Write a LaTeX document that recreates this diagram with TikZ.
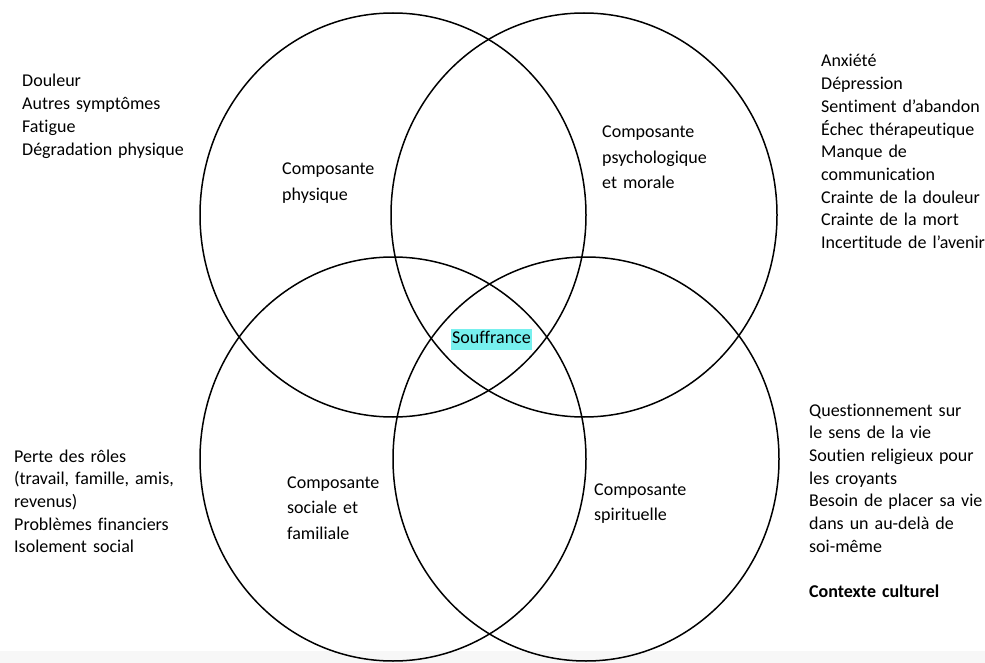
\documentclass[tikz,border=0pt]{standalone}
\usepackage{fontspec}
\setmainfont{Carlito}[Ligatures=NoCommon]
\definecolor{surligne}{RGB}{118,240,238}
\definecolor{bandeau}{RGB}{247,247,247}
\begin{document}
\begin{tikzpicture}[x=1pt, y=-1pt,
    rond/.style={line width=1.5pt},
    liste/.style={anchor=base west, inner sep=0, text width=190pt, align=left,
                  font=\fontsize{18}{22.7}\selectfont},
    compo/.style={anchor=base west, inner sep=0, text width=150pt, align=left,
                  font=\fontsize{18}{25.5}\selectfont}]
    \useasboundingbox (0,0) rectangle (985,663);
    \fill [bandeau] (0,651) rectangle (985,663);

    \draw [rond] (393,215) ellipse [x radius=193pt, y radius=202pt];
    \draw [rond] (584,215) ellipse [x radius=193pt, y radius=202pt];
    \draw [rond] (393,459) ellipse [x radius=193pt, y radius=202pt];
    \draw [rond] (586,459) ellipse [x radius=193pt, y radius=202pt];

    \node [compo] (physique) at (282,175) {Composante\\physique};
    \node [compo] (psycho) at (602,138) {Composante\\psychologique\\et morale};
    \node [compo] (sociale) at (287,488) {Composante\\sociale et\\familiale};
    \node [compo] (spirit) at (594,495) {Composante\\spirituelle};

    \node [fill=surligne, inner xsep=1pt, inner ysep=1.5pt, text height=13pt, text depth=5pt,
           font=\fontsize{18}{22}\selectfont] (souffrance) at (491.5,339) {Souffrance};

    \node [liste] (lphysique) at (22,87)
        {Douleur\\Autres symptômes\\Fatigue\\Dégradation physique};
    \node [liste] (lpsycho) at (821,67)
        {Anxiété\\Dépression\\Sentiment d’abandon\\Échec thérapeutique\\Manque de\\communication\\Crainte de la douleur\\Crainte de la mort\\Incertitude de l’avenir};
    \node [liste] (lsociale) at (14,462)
        {Perte des rôles\\(travail, famille, amis,\\revenus)\\Problèmes financiers\\Isolement social};
    \node [liste] (lspirit) at (809,416)
        {Questionnement sur\\le sens de la vie\\Soutien religieux pour\\les croyants\\Besoin de placer sa vie\\dans un au-delà de\\soi-même\\[22.7pt]\textbf{Contexte culturel}};
\end{tikzpicture}
\end{document}
